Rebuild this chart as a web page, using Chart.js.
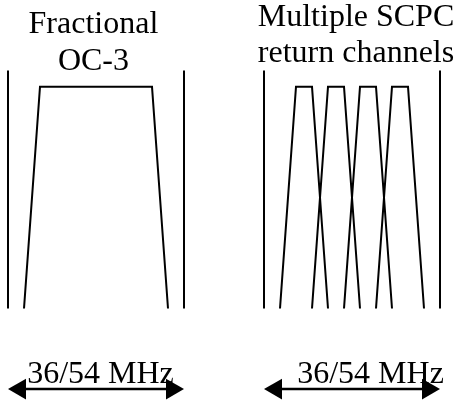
<!DOCTYPE html>
<html>
<head>
<meta charset="utf-8">
<script src="https://cdn.jsdelivr.net/npm/chart.js@4/dist/chart.umd.min.js"></script>
<style>
    html, body { margin: 0; padding: 0; background: #ffffff; }
    #wrap { width: 455px; height: 403px; position: relative; }
</style>
</head>
<body>
<div id="wrap"><canvas id="spectrumChart"></canvas></div>
<script>
// Frequency in channel-slot units, level normalised to the flat top (1).
const bandEdges = [[0, 11], [16, 27]];
const ocCarrier = [1, 2, 9, 10];            // foot, shoulder, shoulder, foot
const scpcCarriers = [
    [17, 18, 19, 20],
    [19, 20, 21, 22],
    [21, 22, 23, 24],
    [23, 24, 25, 26]
];
const carrierLevels = [0, 1, 1, 0];
const edgeLevels = [0, 1.073];
const arrowLevel = -0.363;

const panelTitles = [["Fractional", "OC-3"], ["Multiple SCPC", "return channels"]];
const bandwidthLabels = ["36/54 MHz", "36/54 MHz"];

window.addEventListener("load", init);

function init() {
    const datasets = [];

    // Band edge markers.
    bandEdges.forEach(edges => {
        edges.forEach(f => {
            datasets.push(lineSet(edgeLevels.map(l => ({ x: f, y: l }))));
        });
    });

    // Carriers.
    datasets.push(lineSet(ocCarrier.map((f, i) => ({ x: f, y: carrierLevels[i] }))));
    scpcCarriers.forEach(c => {
        datasets.push(lineSet(c.map((f, i) => ({ x: f, y: carrierLevels[i] }))));
    });

    // Bandwidth arrows (head centre sits inside the band edge).
    const headOffset = 0.75;
    bandEdges.forEach(edges => {
        datasets.push({
            data: [
                { x: edges[0] + headOffset, y: arrowLevel },
                { x: edges[1] - headOffset, y: arrowLevel }
            ],
            showLine: true,
            borderColor: "#000000",
            borderWidth: 2.5,
            pointStyle: "triangle",
            pointRadius: 12,
            pointRotation: [-90, 90],
            pointBackgroundColor: "#000000",
            pointBorderColor: "#000000",
            pointBorderWidth: 0,
            clip: false
        });
    });

    const textPlugin = {
        id: "diagramText",
        afterDatasetsDraw(chart) {
            const ctx = chart.ctx;
            const xs = chart.scales.x;
            const px = v => xs.getPixelForValue(v);
            ctx.save();
            ctx.fillStyle = "#000000";
            ctx.font = '32px "Liberation Serif", "Times New Roman", serif';
            ctx.textAlign = "center";
            ctx.textBaseline = "alphabetic";

            // Titles above each band.
            const titleShift = [-0.16, 0.25];
            const titleTop = [33, 25.5];
            const lineGap = 36.5;
            panelTitles.forEach((lines, i) => {
                const cx = px((bandEdges[i][0] + bandEdges[i][1]) / 2 + titleShift[i]);
                lines.forEach((t, j) => ctx.fillText(t, cx, titleTop[i] + j * lineGap));
            });

            // Bandwidth labels over the arrows.
            const labelShift = [0.28, 1.16];
            bandwidthLabels.forEach((t, i) => {
                const cx = px((bandEdges[i][0] + bandEdges[i][1]) / 2 + labelShift[i]);
                ctx.fillText(t, cx, 383);
            });
            ctx.restore();
        }
    };

    new Chart(document.getElementById("spectrumChart"), {
        type: "scatter",
        data: { datasets: datasets },
        options: {
            responsive: true,
            maintainAspectRatio: false,
            animation: false,
            events: [],
            layout: { padding: 0, autoPadding: false },
            plugins: {
                legend: { display: false },
                tooltip: { enabled: false }
            },
            scales: {
                x: { type: "linear", display: false, min: -0.5, max: 27.9375 },
                y: { type: "linear", display: false, min: -0.426, max: 1.391 }
            }
        },
        plugins: [textPlugin]
    });
}

function lineSet(points) {
    return {
        data: points,
        showLine: true,
        borderColor: "#000000",
        borderWidth: 2,
        pointRadius: 0,
        borderJoinStyle: "miter",
        clip: false
    };
}
</script>
</body>
</html>
